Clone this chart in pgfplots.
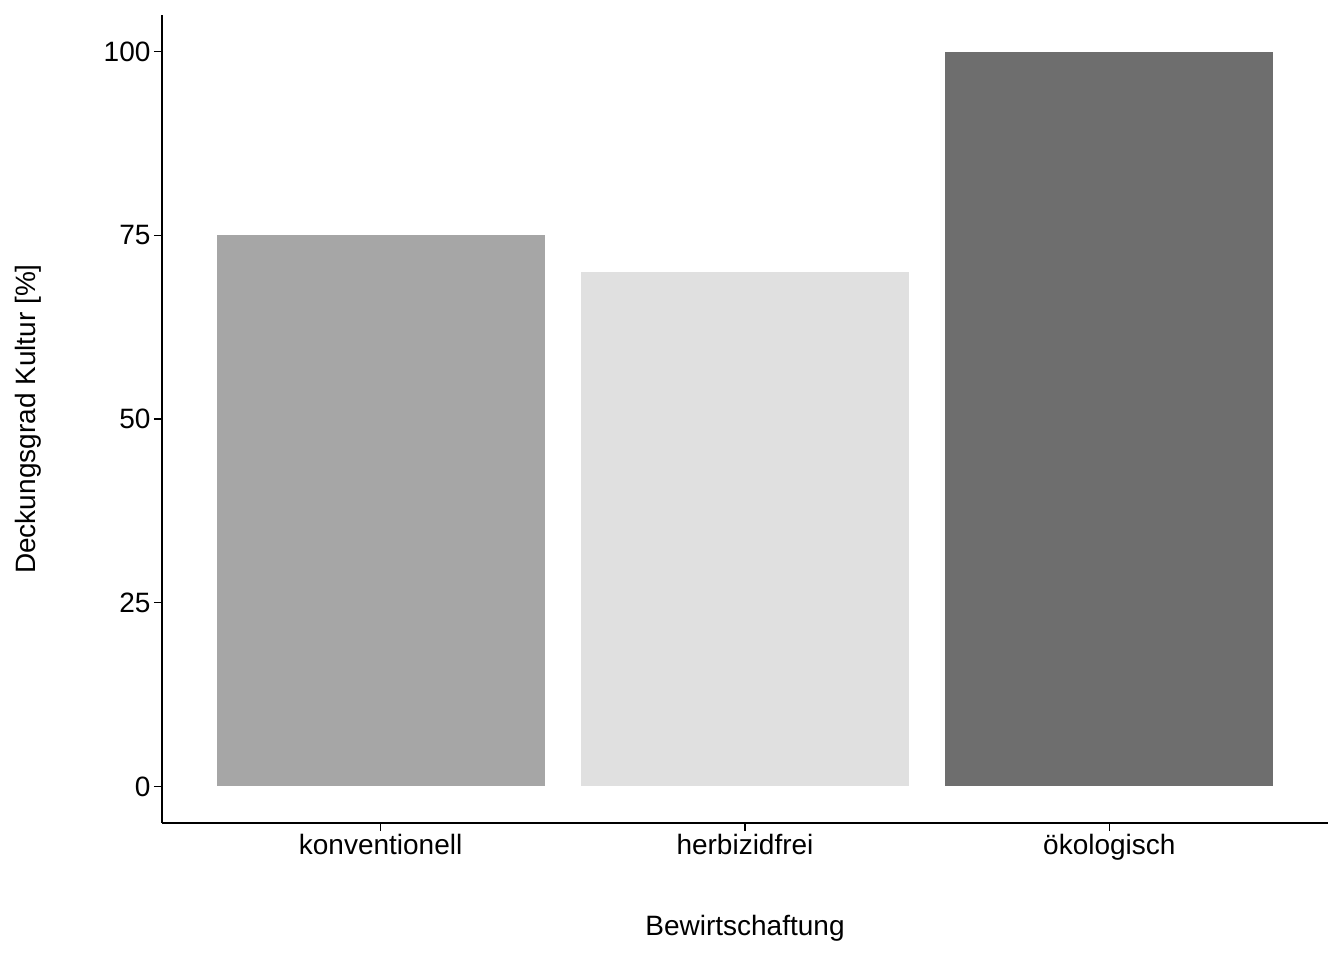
\documentclass[border=0pt]{standalone}
\usepackage{pgfplots}
\pgfplotsset{compat=1.18}
\usepackage{fontspec}
\setmainfont{Liberation Sans}
\definecolor{c1}{HTML}{A6A6A6}
\definecolor{c2}{HTML}{E0E0E0}
\definecolor{c3}{HTML}{6E6E6E}
\begin{document}
\begin{tikzpicture}
\begin{axis}[
  scale only axis, width=1166pt, height=808pt,
  xmin=-0.6, xmax=2.6, ymin=-5, ymax=105,
  axis lines=left, axis line style={line width=1.4pt,-},
  tick style={line width=1.4pt,black}, tick align=outside, major tick length=8pt,
  xtick={0,1,2}, xticklabels={konventionell,herbizidfrei,ökologisch},
  ytick={0,25,50,75,100},
  ticklabel style={font=\fontsize{28}{34}\selectfont},
  /pgf/number format/assume math mode=true,
  xlabel={Bewirtschaftung}, ylabel={Deckungsgrad Kultur [\%]},
  label style={font=\fontsize{28}{34}\selectfont},
  xlabel style={at={(rel axis cs:0.5,-0.13)},anchor=center},
  ylabel style={at={(rel axis cs:-0.115,0.5)},anchor=center},
  ybar, bar width=0.9, bar shift=0pt, clip=false,
  enlargelimits=false,
]
\addplot[fill=c1,draw=none] coordinates {(0,75)};
\addplot[fill=c2,draw=none] coordinates {(1,70)};
\addplot[fill=c3,draw=none] coordinates {(2,100)};
\path (rel axis cs:-0.1389,-0.1696) rectangle (rel axis cs:1.0137,1.0186);
\end{axis}
\end{tikzpicture}
\end{document}
